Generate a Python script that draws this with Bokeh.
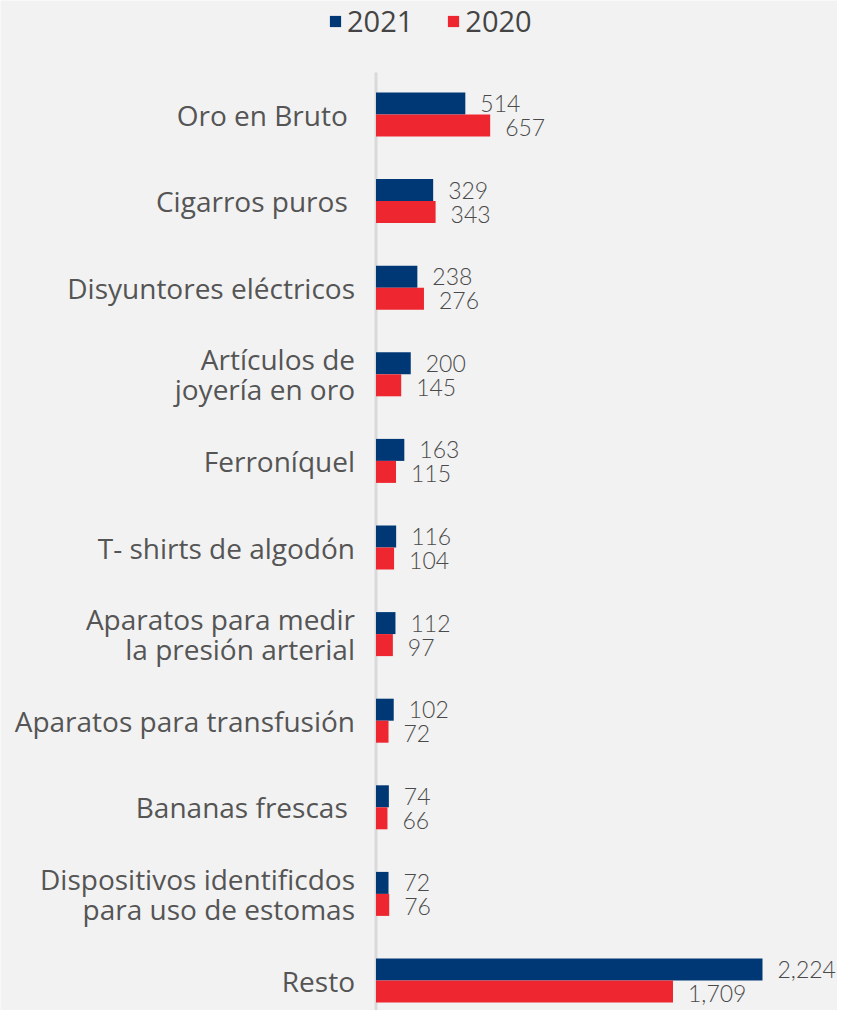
from bokeh.plotting import figure
from bokeh.models import Range1d, ColumnDataSource, Legend, LegendItem, LabelSet
from bokeh.embed import file_html
from bokeh.resources import INLINE
from bokeh.core.properties import value

categories = ["Oro en Bruto ", "Cigarros puros ", "Disyuntores eléctricos",
              "Artículos de\njoyería en oro", "Ferroníquel", "T- shirts de algodón",
              "Aparatos para medir\nla presión arterial", "Aparatos para transfusión",
              "Bananas frescas ", "Dispositivos identificdos\npara uso de estomas", "Resto"]
v2021 = [514, 329, 238, 200, 163, 116, 112, 102, 74, 72, 2224]
v2020 = [657, 343, 276, 145, 115, 104, 97, 72, 66, 76, 1709]
series = ["2021", "2020"]
colors = ["#003876", "#ee2630"]

W, H = 837, 1010
axis_px = 375.5        # screen x of the zero line
px_per_unit = 386.5 / 2224
row_px = 86.6
first_center_px = 114
bar_h = 22 / row_px

n = len(categories)
idx = list(range(n))

y_bottom = (H - first_center_px) / row_px
y_top = -first_center_px / row_px

p = figure(width=W, height=H, output_backend="svg", toolbar_location=None,
           x_range=Range1d(-axis_px / px_per_unit, (W - axis_px) / px_per_unit),
           y_range=Range1d(y_bottom, y_top),
           min_border=0, background_fill_color="#f2f2f2", border_fill_color="#f2f2f2",
           outline_line_color=None)
p.xaxis.visible = False
p.yaxis.visible = False
p.xgrid.visible = False
p.ygrid.visible = False

# zero line (axis)
p.segment(x0=[0], y0=[y_top + 72 / row_px], x1=[0], y1=[y_bottom],
          line_color="#d9d9d9", line_width=3)

src = ColumnDataSource(dict(
    y1=[i - bar_h / 2 for i in idx], y2=[i + bar_h / 2 for i in idx],
    v1=v2021, v2=v2020,
    t1=[f"{v:,}" for v in v2021], t2=[f"{v:,}" for v in v2020],
    cat=categories, zero=[0] * n, iy=idx,
))

r1 = p.hbar(y="y1", left=0, right="v1", height=bar_h, source=src,
            fill_color=colors[0], line_color=None)
r2 = p.hbar(y="y2", left=0, right="v2", height=bar_h, source=src,
            fill_color=colors[1], line_color=None)

for ycol, xcol, tcol, yo in (("y1", "v1", "t1", 0), ("y2", "v2", "t2", -2)):
    p.add_layout(LabelSet(x=xcol, y=ycol, text=tcol, source=src, x_offset=15, y_offset=yo,
                          text_baseline="middle", text_align="left",
                          text_font=value("Lato Light, Lato"), text_font_size="23px",
                          text_color="#4a4a4a"))

p.text(x="zero", y="iy", text="cat", source=src, x_offset=-21, text_align="right",
       text_baseline="middle", text_font=value("Open Sans"), text_font_size="28px",
       text_color="#555555", text_line_height=0.8)

legend = Legend(items=[LegendItem(label=series[0], renderers=[r1]),
                       LegendItem(label=series[1], renderers=[r2])],
                orientation="horizontal", location=(328, 970),
                glyph_width=14, glyph_height=14, label_standoff=5, spacing=33,
                padding=0, margin=0, border_line_alpha=0, background_fill_alpha=0,
                label_text_font="Open Sans", label_text_font_size="29px",
                label_text_color="#444444", label_text_font_style="normal")
p.add_layout(legend)

open("out.html", "w").write(file_html(p, INLINE))
